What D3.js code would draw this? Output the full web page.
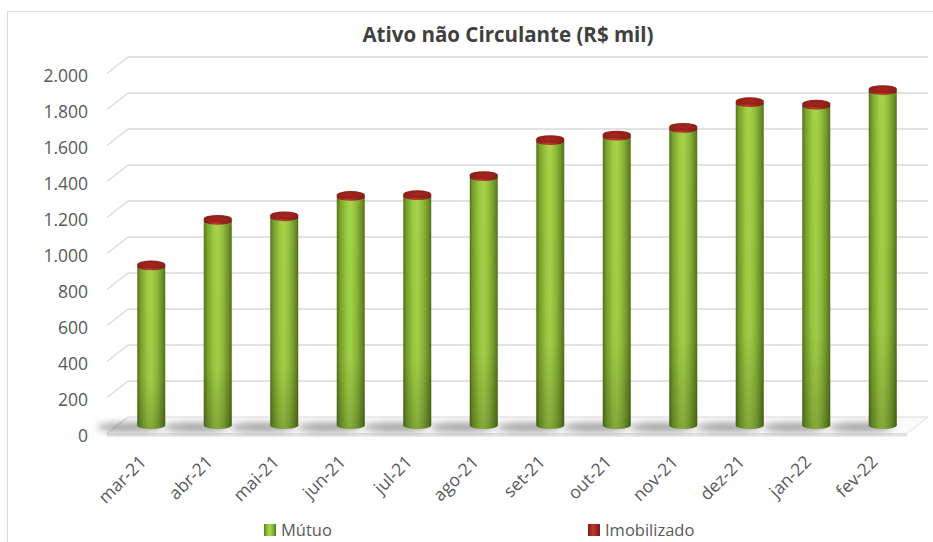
<!DOCTYPE html>
<html>
<head>
<meta charset="utf-8">
<script src="https://cdn.jsdelivr.net/npm/d3@7"></script>
<style>
  body { margin: 0; background: #fff; }
  text { font-family: "Open Sans", sans-serif; }
</style>
</head>
<body>
<svg id="chart" width="933" height="542"></svg>
<script>
// values (R$ mil)
var categories = ["mar-21", "abr-21", "mai-21", "jun-21", "jul-21", "ago-21",
  "set-21", "out-21", "nov-21", "dez-21", "jan-22", "fev-22"];
var mutuo = [882, 1135, 1155, 1268, 1272, 1378, 1578, 1603, 1646, 1789, 1775, 1856];
var imobilizado = [12, 12, 12, 12, 12, 12, 12, 12, 12, 12, 12, 12];
var seriesNames = ["Mútuo", "Imobilizado"];
var titleText = "Ativo não Circulante (R$ mil)";

var svg = d3.select("#chart");

// 3d depth offset of the floor / side wall
var depthX = 21, depthY = 16.5;

var y = d3.scaleLinear().domain([0, 2000]).range([417, 57]);
var x = d3.scaleBand().domain(categories).range([118, 916]).padding(0);
var ptBR = d3.formatLocale({decimal: ",", thousands: ".", grouping: [3], currency: ["R$", ""]});
var fmt = ptBR.format(",d");

var defs = svg.append("defs");
var gGreen = defs.append("linearGradient").attr("id", "gGreen").attr("x1", 0).attr("x2", 1).attr("y1", 0).attr("y2", 0);
[[0, "#55731b"], [0.12, "#78a02c"], [0.35, "#9ccb40"], [0.5, "#a6d34a"], [0.7, "#8fbb3b"], [0.9, "#6b8f25"], [1, "#52701a"]]
  .forEach(function(s){ gGreen.append("stop").attr("offset", s[0]).attr("stop-color", s[1]); });
var gShade = defs.append("linearGradient").attr("id", "gShade").attr("x1", 0).attr("x2", 0).attr("y1", 0).attr("y2", 1);
gShade.append("stop").attr("offset", 0).attr("stop-color", "#000").attr("stop-opacity", 0);
gShade.append("stop").attr("offset", 0.7).attr("stop-color", "#000").attr("stop-opacity", 0.03);
gShade.append("stop").attr("offset", 1).attr("stop-color", "#000").attr("stop-opacity", 0.2);
var gRed = defs.append("linearGradient").attr("id", "gRed").attr("x1", 0).attr("x2", 1).attr("y1", 0).attr("y2", 0);
[[0, "#7a1a14"], [0.4, "#c2392c"], [1, "#7a1a14"]]
  .forEach(function(s){ gRed.append("stop").attr("offset", s[0]).attr("stop-color", s[1]); });
var gRedTop = defs.append("radialGradient").attr("id", "gRedTop");
gRedTop.append("stop").attr("offset", 0).attr("stop-color", "#a8261d");
gRedTop.append("stop").attr("offset", 1).attr("stop-color", "#8f2019");
var blur = defs.append("filter").attr("id", "blur").attr("x", "-50%").attr("y", "-200%").attr("width", "200%").attr("height", "500%");
blur.append("feGaussianBlur").attr("stdDeviation", 3.5);

// chart area border
svg.append("rect").attr("x", 7.5).attr("y", 11.5).attr("width", 1000).attr("height", 600)
  .attr("fill", "none").attr("stroke", "#d9d9d9");

// title
svg.append("text").attr("x", 508).attr("y", 42).attr("text-anchor", "middle")
  .attr("font-size", 20.5).attr("font-weight", "bold").attr("fill", "#404040").text(titleText);

var ticks = y.ticks(10);
var xLeft = x.range()[0] + 10, xRight = x.range()[1] + 12;

// floor
var floor = svg.append("g");
floor.append("path")
  .attr("d", "M" + (xLeft - depthX) + "," + (y(0) + depthY) + "L" + (xRight - depthX) + "," + (y(0) + depthY) +
    "L" + xRight + "," + y(0) + "L" + xLeft + "," + y(0) + "Z")
  .attr("fill", "#fafafa").attr("stroke", "#dcdcdc");
floor.append("line").attr("x1", xLeft - depthX).attr("x2", xRight - depthX)
  .attr("y1", y(0) + depthY + 1.5).attr("y2", y(0) + depthY + 1.5)
  .attr("stroke", "#e2e2e2").attr("stroke-width", 3);

// back wall gridlines and side wall
var grid = svg.append("g");
grid.selectAll("line.back").data(ticks.filter(function(t){ return t > 0; })).enter().append("line")
  .attr("class", "back")
  .attr("x1", xLeft).attr("x2", xRight)
  .attr("y1", function(d){ return y(d); }).attr("y2", function(d){ return y(d); })
  .attr("stroke", "#d9d9d9").attr("stroke-width", 1.5);
grid.selectAll("line.side").data(ticks).enter().append("line")
  .attr("class", "side")
  .attr("x1", xLeft - depthX).attr("x2", xLeft)
  .attr("y1", function(d){ return y(d) + depthY; }).attr("y2", function(d){ return y(d); })
  .attr("stroke", "#d9d9d9").attr("stroke-width", 1.2);

// y labels
svg.append("g").selectAll("text").data(ticks).enter().append("text")
  .attr("x", 88).attr("y", function(d){ return y(d) + depthY + 2; })
  .attr("dy", "0.35em").attr("text-anchor", "end")
  .attr("font-size", 17.5).attr("fill", "#595959")
  .text(function(d){ return fmt(d); });

// bars as cylinders at mid depth
var rx = 14, ry = 3.8;
var mid = function(v){ return y(v) + depthY / 2; };
var data = categories.map(function(c, i){
  return {cat: c, m: mutuo[i], im: imobilizado[i], cx: x(c) + x.bandwidth() / 2};
});

var side = function(cx, top, bot){
  return "M" + (cx - rx) + "," + top + "L" + (cx - rx) + "," + bot +
    "A" + rx + "," + ry + " 0 0 0 " + (cx + rx) + "," + bot +
    "L" + (cx + rx) + "," + top + "Z";
};

svg.append("g").selectAll("ellipse").data(data).enter().append("ellipse")
  .attr("cx", function(d){ return d.cx - 22; }).attr("cy", mid(0) + 2)
  .attr("rx", 32).attr("ry", 4.5)
  .attr("fill", "#666").attr("opacity", 0.6).attr("filter", "url(#blur)");

var bars = svg.append("g").selectAll("g").data(data).enter().append("g");

// green body (Mútuo)
bars.append("path")
  .attr("d", function(d){ return side(d.cx, mid(d.m), mid(0)); })
  .attr("fill", "url(#gGreen)");
bars.append("path")
  .attr("d", function(d){ return side(d.cx, mid(d.m), mid(0)); })
  .attr("fill", "url(#gShade)");

// red segment (Imobilizado) stacked on top
bars.append("path")
  .attr("d", function(d){ return side(d.cx, mid(d.m + d.im), mid(d.m)); })
  .attr("fill", "url(#gRed)");
bars.append("ellipse")
  .attr("cx", function(d){ return d.cx; })
  .attr("cy", function(d){ return mid(d.m + d.im); })
  .attr("rx", rx).attr("ry", ry)
  .attr("fill", "url(#gRedTop)");

// x labels
svg.append("g").selectAll("text").data(data).enter().append("text")
  .attr("text-anchor", "end")
  .attr("font-size", 17.5).attr("fill", "#595959")
  .attr("transform", function(d){ return "translate(" + (d.cx - 4) + "," + 463 + ") rotate(-45)"; })
  .text(function(d){ return d.cat; });

// legend
var legendItems = [
  {name: seriesNames[0], x: 264, fill: "url(#gGreen)"},
  {name: seriesNames[1], x: 588, fill: "url(#gRed)"}
];
var li = svg.append("g").selectAll("g").data(legendItems).enter().append("g")
  .attr("transform", function(d){ return "translate(" + d.x + ",524)"; });
li.append("rect").attr("width", 12).attr("height", 12)
  .attr("fill", function(d){ return d.fill; });
li.append("text").attr("x", 17).attr("y", 6).attr("dy", "0.36em")
  .attr("font-size", 16.5).attr("fill", "#595959")
  .text(function(d){ return d.name; });
</script>
</body>
</html>
